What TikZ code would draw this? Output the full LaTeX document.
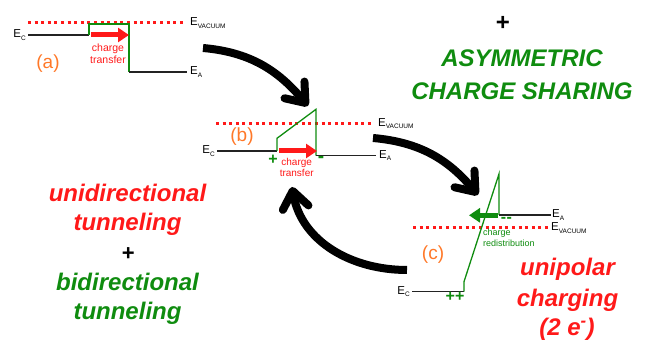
\documentclass[tikz,border=0pt]{standalone}
\usepackage{fontspec}
\setmainfont{Liberation Sans}
\usetikzlibrary{arrows.meta}

\definecolor{bandred}{RGB}{255,25,25}
\definecolor{bandgreen}{RGB}{15,140,15}
\definecolor{tagorange}{RGB}{255,120,40}
\definecolor{levelgray}{RGB}{35,35,35}

% energy-level label with a small subscript
\newcommand\lvl[2]{#1\raisebox{-0.4ex}{\fontsize{6.5}{6.5}\selectfont #2}}

\tikzset{
  level/.style={levelgray, line width=1.3pt},
  barrier/.style={bandgreen, line width=1.3pt},
  vacuum/.style={bandred, line width=3pt, dash pattern=on 3pt off 3.6pt},
  lbl/.style={font=\fontsize{11.5}{11.5}\selectfont, inner sep=0pt},
  tag/.style={tagorange, font=\fontsize{19}{19}\selectfont, inner sep=0pt},
  flow/.style={line width=5pt, -{Triangle[length=11pt,width=14pt]}},
  note/.style={font=\fontsize{10.5}{12}\selectfont, align=center, inner sep=0pt},
  sign/.style={bandgreen, font=\fontsize{16}{16}\selectfont\bfseries, inner sep=0pt},
  bigword/.style={font=\fontsize{24}{30}\selectfont\bfseries\itshape, inner sep=0pt, anchor=base},
  cyclearrow/.style={line width=8pt, -{Straight Barb[length=17pt,width=26pt,round]}},
}

\begin{document}
\begin{tikzpicture}[x=1pt,y=1pt]
\useasboundingbox (0,0) rectangle (649,340);

% ---------- (a) flat band ----------
\draw[vacuum] (28,317) -- (186,317);
\node[lbl, anchor=west] (aVac) at (190,317) {\lvl{E}{VACUUM}};
\node[lbl, anchor=east] (aEc) at (26,305) {\lvl{E}{C}};
\node[lbl, anchor=west] (aEa) at (190,268) {\lvl{E}{A}};
\coordinate (aL) at (89,305);
\coordinate (aR) at (129,268);
\draw[level] (28,305) -- (aL);
\draw[barrier] (aL) -- (89,316) -- (129,316) -- (aR);
\draw[level] (aR) -- (187,268);
\draw[flow, bandred] (91,305) -- (129,305);
\node[note, bandred] (aNote) at (108,286) {charge\\transfer};
\node[tag] (aTag) at (48,276) {(a)};

% ---------- (b) tilted barrier ----------
\draw[vacuum] (216,216.7) -- (374,216.7);
\node[lbl, anchor=west] (bVac) at (378,216.7) {\lvl{E}{VACUUM}};
\node[lbl, anchor=east] (bEc) at (215,189) {\lvl{E}{C}};
\node[lbl, anchor=west] (bEa) at (379,184.3) {\lvl{E}{A}};
\coordinate (bL) at (277,189);
\coordinate (bR) at (316,184.3);
\draw[level] (217,189) -- (bL);
\draw[barrier] (bL) -- (277,201.7) -- (316,230.7) -- (bR);
\draw[level] (bR) -- (376,184.3);
\draw[flow, bandred] (279,189) -- (317,189);
\node[sign] (bPlus) at (273,180) {+};
\node[sign, font=\fontsize{19}{19}\selectfont\bfseries] (bMinus) at (321,180.5) {-};
\node[note, bandred, font=\fontsize{10}{11}\selectfont] (bNote) at (296.7,172.5) {charge\\transfer};
\node[tag] (bTag) at (242,203) {(b)};

% ---------- (c) charged state ----------
\draw[vacuum] (413,112.7) -- (550,112.7);
\node[lbl, anchor=west] (cVac) at (551,112) {\lvl{E}{VACUUM}};
\node[lbl, anchor=east] (cEc) at (410,48.3) {\lvl{E}{C}};
\node[lbl, anchor=west] (cEa) at (552,125) {\lvl{E}{A}};
\coordinate (cL) at (464,48.3);
\coordinate (cR) at (499,125);
\draw[level] (412,48.3) -- (cL);
\draw[barrier] (cL) -- (464,58.3) -- (499,166) -- (cR);
\draw[level] (cR) -- (550.7,125);
\draw[flow, bandgreen] (498,124.7) -- (469,124.7);
\node[sign] (cMinus) at (506.5,120) {-{}\kern0.5pt-};
\node[sign] (cPlus) at (455,43.3) {++};
\node[note, bandgreen, align=left, anchor=west, font=\fontsize{9}{11}\selectfont] (cNote) at (483,102.5) {charge\\redistribution};
\node[tag] (cTag) at (433,85) {(c)};

% ---------- cycle arrows ----------
\coordinate (c1s) at (203,292);
\coordinate (c1e) at (308,234);
\coordinate (c2s) at (373,202);
\coordinate (c2e) at (478,145);
\coordinate (c3s) at (407,70);
\coordinate (c3e) at (292,153);
\draw[cyclearrow] (c1s) to[out=-5, in=130] (c1e);
\draw[cyclearrow] (c2s) to[out=-5, in=130] (c2e);
\draw[cyclearrow] (c3s) to[out=180, in=-80] (c3e);

% ---------- captions ----------
\node[font=\fontsize{24}{24}\selectfont\bfseries, inner sep=0pt] (topPlus) at (503,316.7) {+};
\node[bigword, bandgreen] (asym1) at (522,273.3) {ASYMMETRIC};
\node[bigword, bandgreen] (asym2) at (522,240) {CHARGE SHARING};

\node[bigword, bandred] (uni1) at (127.5,138.3) {unidirectional};
\node[bigword, bandred] (uni2) at (127.5,109) {tunneling};
\node[font=\fontsize{22}{22}\selectfont\bfseries, inner sep=0pt] (leftPlus) at (128.3,86) {+};
\node[bigword, bandgreen] (bi1) at (127.5,49) {bidirectional};
\node[bigword, bandgreen] (bi2) at (127.5,20.7) {tunneling};

\node[bigword, bandred] (pol1) at (567.5,64.5) {unipolar};
\node[bigword, bandred] (pol2) at (567.5,33) {charging};
\node[bigword, bandred] (pol3) at (567,4.5) {(2 e\textsuperscript{-})};
\end{tikzpicture}
\end{document}
